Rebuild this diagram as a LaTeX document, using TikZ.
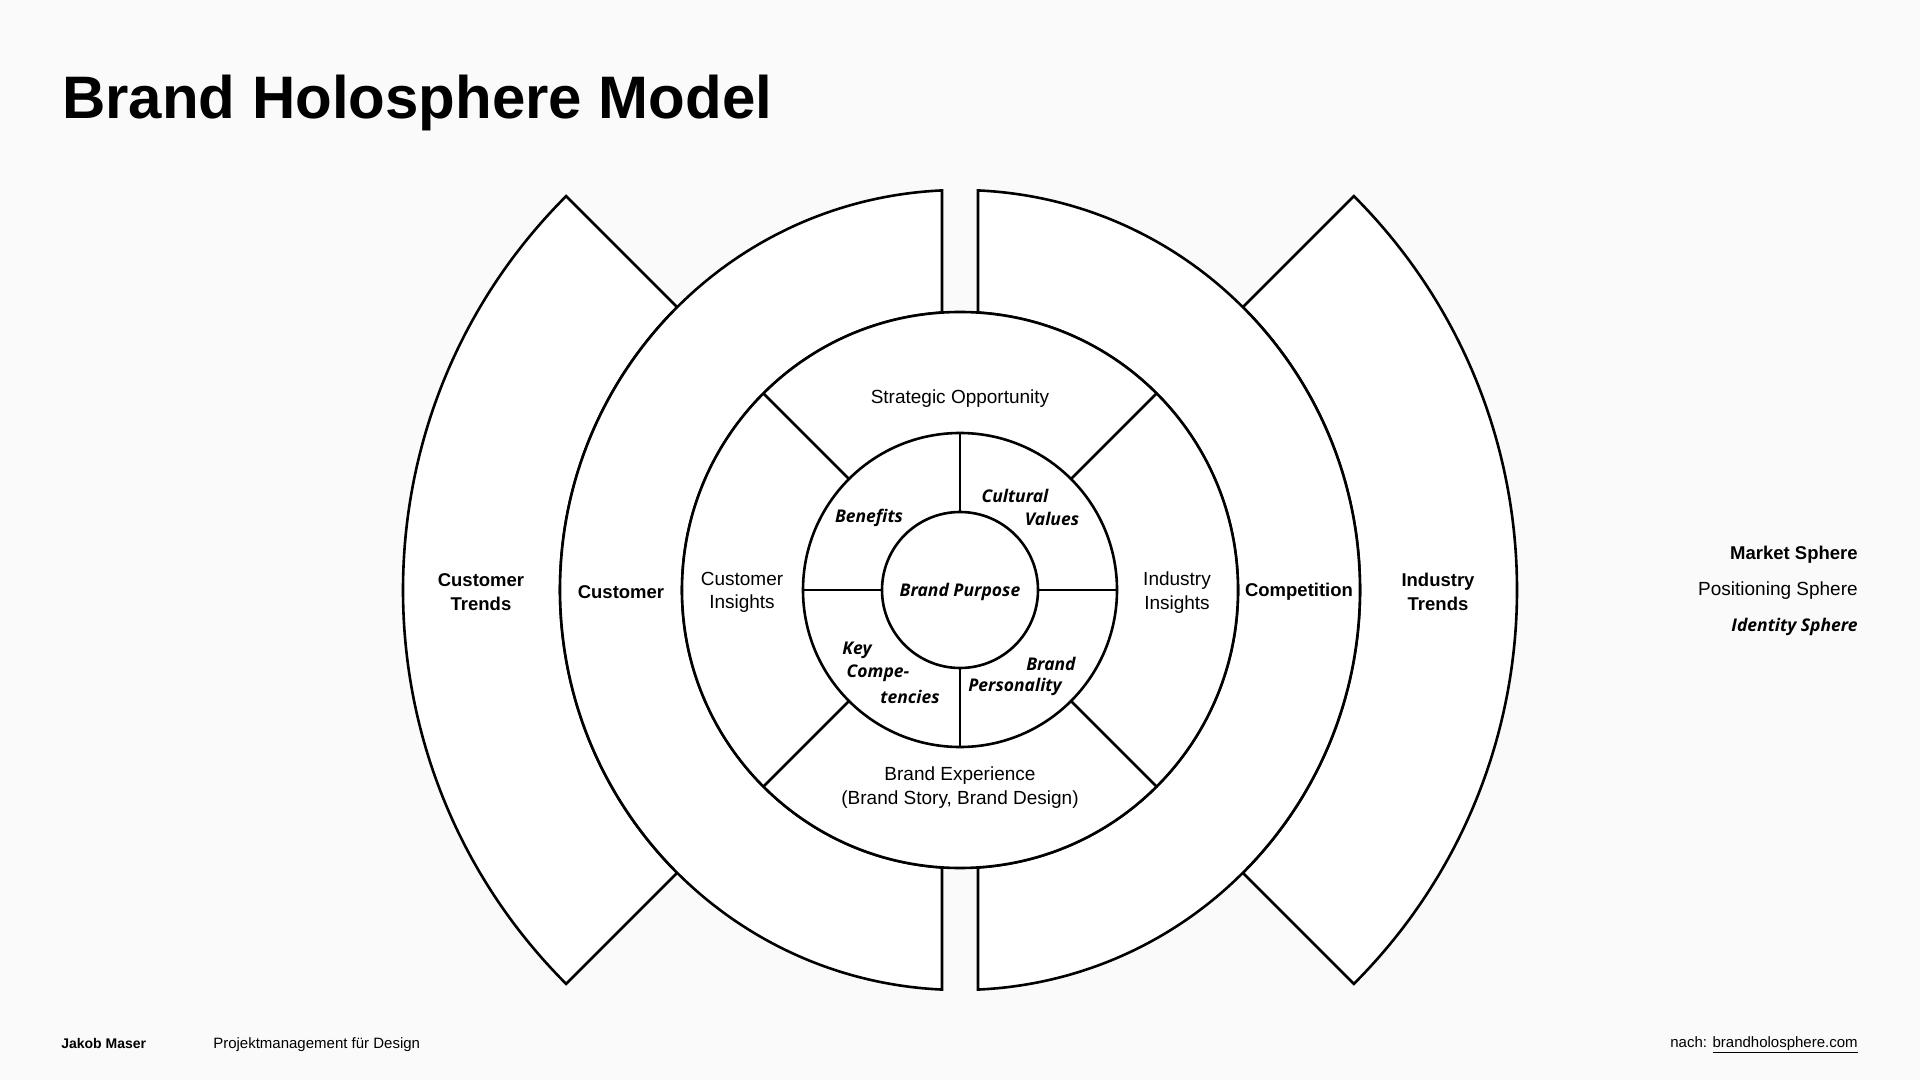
\documentclass[tikz,border=0pt]{standalone}
\usepackage{fontspec}
\setmainfont{Liberation Sans}
\newfontfamily\idfont{Open Sans}
\definecolor{bgc}{HTML}{FAFAFA}
\begin{document}
\begin{tikzpicture}[x=1pt,y=1pt,line width=2.6pt,line join=miter,
  ring/.style={draw=black,fill=white},
  lbl/.style={inner sep=0pt,align=center,font=\fontsize{19}{23.5}\selectfont},
  blbl/.style={lbl,font=\fontsize{18.5}{23.5}\selectfont\bfseries},
  ilbl/.style={inner sep=0pt,align=center,font=\idfont\fontsize{17.5}{23.5}\selectfont\bfseries\itshape},
  foot/.style={inner sep=0pt,font=\fontsize{15}{17}\selectfont}]
\fill[bgc] (0,0) rectangle (1920,1080);
\useasboundingbox (0,0) rectangle (1920,1080);
\node[anchor=base west,inner sep=0pt,font=\fontsize{60}{72}\selectfont\bfseries] (title) at (61,961) {Brand Holosphere Model};
\begin{scope}[shift={(960,490)}]
  % trends
  \path[ring] (135:557) arc[start angle=135,end angle=225,radius=557] -- (225:400) arc[start angle=225,end angle=135,radius=400] -- cycle;
  \path[ring] (45:557) arc[start angle=45,end angle=-45,radius=557] -- (-45:400) arc[start angle=-45,end angle=45,radius=400] -- cycle;
  % market halves
  \path[ring] (92.579:400) arc[start angle=92.579,end angle=267.421,radius=400] -- (266.288:278) arc[start angle=266.288,end angle=93.712,radius=278] -- cycle;
  \path[ring] (87.421:400) arc[start angle=87.421,end angle=-87.421,radius=400] -- (-86.288:278) arc[start angle=-86.288,end angle=86.288,radius=278] -- cycle;
  % positioning
  \path[ring] (0,0) circle[radius=278];
  \foreach \a in {45,135,225,315} \draw (\a:157) -- (\a:278);
  % identity
  \path[ring] (0,0) circle[radius=157];
  \foreach \a in {0,90,180,270} \draw (\a:78) -- (\a:157);
  \path[ring] (0,0) circle[radius=78];
\end{scope}
% labels
\node[blbl] (ctrends) at (481,488) {Customer\\Trends};
\node[blbl] (cust) at (621,488) {Customer};
\node[lbl] (cins) at (742,487.5) {Customer\\Insights};
\node[blbl] (comp) at (1299,488) {Competition};
\node[blbl] (itrends) at (1438,488) {Industry\\Trends};
\node[lbl] (iins) at (1177,487.5) {Industry\\Insights};
\node[lbl] (strat) at (960,681.5) {Strategic Opportunity};
\node[lbl] (exp) at (960,292.5) {Brand Experience\\(Brand Story, Brand Design)};
\node[ilbl] (purp) at (960,488) {Brand Purpose};
\node[ilbl] (ben) at (869,562) {Benefits};
\node[ilbl] (cult1) at (1015,584) {Cultural};
\node[ilbl] (cult2) at (1052,561) {Values};
\node[ilbl] (key1) at (857,430) {Key};
\node[ilbl] (key2) at (878,407) {Compe-};
\node[ilbl] (key3) at (910,383) {tencies};
\node[ilbl] (pers1) at (1051,416.5) {Brand};
\node[ilbl] (pers2) at (1015,393) {Personality};
% legend
\node[anchor=east,inner sep=0pt,font=\fontsize{18.5}{22}\selectfont\bfseries] (lm) at (1859,525) {Market Sphere};
\node[anchor=east,inner sep=0pt,font=\fontsize{19}{22}\selectfont] (lp) at (1859,489) {Positioning Sphere};
\node[anchor=east,inner sep=0pt,font=\idfont\fontsize{17.5}{22}\selectfont\bfseries\itshape] (li) at (1859,453) {Identity Sphere};
% footer
\node[foot,anchor=west,font=\fontsize{14}{16}\selectfont\bfseries] (author) at (60,37) {Jakob Maser};
\node[foot,anchor=west] (course) at (212,35) {Projektmanagement für Design};
\node[foot,anchor=east] (src) at (1859,35) {nach: \underline{brandholosphere.com}};
\end{tikzpicture}
\end{document}
